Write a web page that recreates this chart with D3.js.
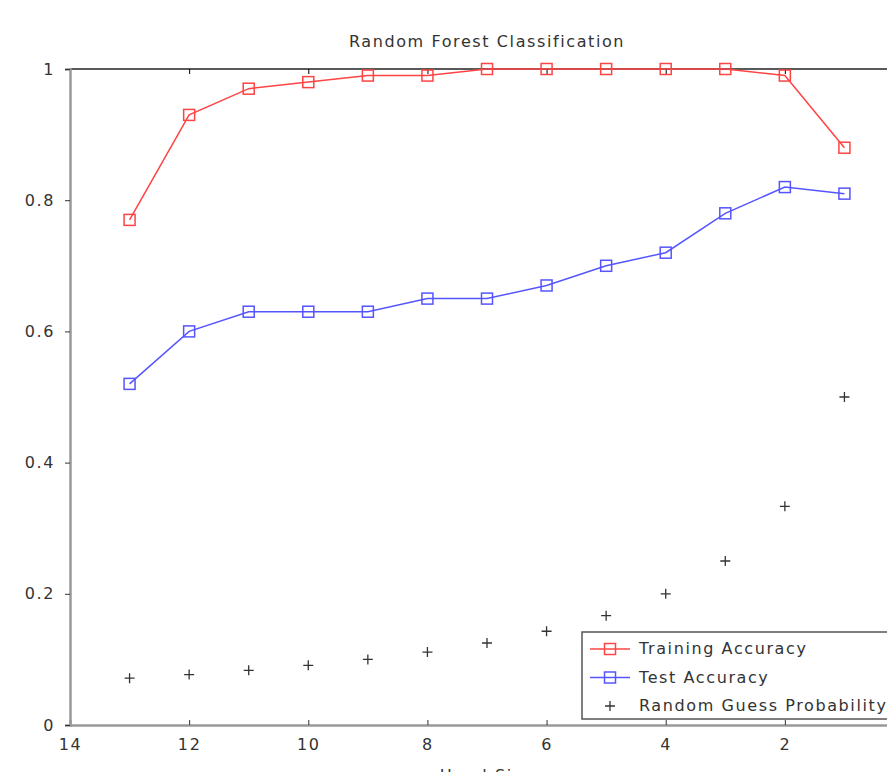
<!DOCTYPE html>
<html>
<head>
<meta charset="utf-8">
<script src="https://cdn.jsdelivr.net/npm/d3@7"></script>
<style>
  body { margin: 0; background: #fff; }
  text { font-family: "DejaVu Sans", sans-serif; fill: #333; letter-spacing: 1.6px; }
</style>
</head>
<body>
<div id="chart"></div>
<script>
// data
var handSize = [13, 12, 11, 10, 9, 8, 7, 6, 5, 4, 3, 2, 1];
var trainAcc = [0.77, 0.93, 0.97, 0.98, 0.99, 0.99, 1.0, 1.0, 1.0, 1.0, 1.0, 0.99, 0.88];
var testAcc  = [0.52, 0.60, 0.63, 0.63, 0.63, 0.65, 0.65, 0.67, 0.70, 0.72, 0.78, 0.82, 0.81];
var randomGuess = [0.0714, 0.0769, 0.0833, 0.0909, 0.1, 0.1111, 0.125, 0.1429, 0.1667, 0.2, 0.25, 0.3333, 0.5];
var xTicks = [14, 12, 10, 8, 6, 4, 2];
var yTicks = [0, 0.2, 0.4, 0.6, 0.8, 1];
var legendLabels = ["Training Accuracy", "Test Accuracy", "Random Guess Probability"];

var width = 887, height = 772;
var mLeft = 70, mTop = 69, mBottom = 725, mRight = 904;

var svg = d3.select("#chart").append("svg")
  .attr("width", width)
  .attr("height", height);

var x = d3.scaleLinear().domain([14, 0]).range([mLeft, mRight]);
var y = d3.scaleLinear().domain([0, 1]).range([mBottom, mTop]);

// title
svg.append("text")
  .attr("x", (mLeft + mRight) / 2)
  .attr("y", 47)
  .attr("text-anchor", "middle")
  .style("font-size", "16px")
  .text("Random Forest Classification");

// top border
svg.append("line")
  .attr("x1", mLeft).attr("x2", mRight)
  .attr("y1", mTop).attr("y2", mTop)
  .attr("stroke", "#222").attr("stroke-width", 1.5);

// x axis
var xAxis = svg.append("g")
  .attr("transform", "translate(0," + mBottom + ")")
  .call(d3.axisBottom(x).tickValues(xTicks).tickSize(-5).tickPadding(14).tickFormat(d3.format("d")));
xAxis.select(".domain").attr("stroke", "#999").attr("stroke-width", 2.5);
xAxis.selectAll(".tick line").attr("stroke", "#333");
xAxis.selectAll(".tick text").style("font-size", "16px").attr("fill", "#333");

// top ticks
svg.append("g")
  .attr("transform", "translate(0," + mTop + ")")
  .call(d3.axisTop(x).tickValues(xTicks).tickSize(-5).tickFormat(""))
  .select(".domain").remove();

// y axis
var yAxis = svg.append("g")
  .attr("transform", "translate(" + mLeft + ",0)")
  .call(d3.axisLeft(y).tickValues(yTicks).tickSize(5).tickPadding(10).tickFormat(function(d) { return d === 0 || d === 1 ? d : d.toFixed(1); }));
yAxis.select(".domain").attr("stroke", "#999").attr("stroke-width", 2.5);
yAxis.selectAll(".tick line").attr("stroke", "#333");
yAxis.selectAll(".tick text").style("font-size", "16px").attr("fill", "#333");

// x label
svg.append("text")
  .attr("x", (mLeft + mRight) / 2)
  .attr("y", 781)
  .attr("text-anchor", "middle")
  .style("font-size", "16px")
  .text("Hand Size");

var line = d3.line()
  .x(function(d, i) { return x(handSize[i]); })
  .y(function(d) { return y(d); });

function drawSeries(values, color) {
  svg.append("path")
    .datum(values)
    .attr("d", line)
    .attr("fill", "none")
    .attr("stroke", color)
    .attr("stroke-width", 1.5);
  svg.selectAll(null)
    .data(values)
    .enter().append("rect")
    .attr("x", function(d, i) { return x(handSize[i]) - 5.5; })
    .attr("y", function(d) { return y(d) - 5.5; })
    .attr("width", 11)
    .attr("height", 11)
    .attr("fill", "none")
    .attr("stroke", color)
    .attr("stroke-width", 1.5);
}

// random guess plus markers
function plus(g, cx, cy) {
  g.append("path")
    .attr("d", "M" + (cx - 5) + "," + cy + "H" + (cx + 5) + "M" + cx + "," + (cy - 5) + "V" + (cy + 5))
    .attr("stroke", "#333")
    .attr("stroke-width", 1.3);
}
randomGuess.forEach(function(d, i) { plus(svg, x(handSize[i]), y(d)); });

drawSeries(testAcc, "#5555ff");
drawSeries(trainAcc, "#ff4444");

// legend
var lg = svg.append("g").attr("transform", "translate(582,632)");
lg.append("rect")
  .attr("width", 320).attr("height", 87)
  .attr("fill", "#fff").attr("stroke", "#555").attr("stroke-width", 1.5);
var colors = ["#ff4444", "#5555ff", "#333"];
legendLabels.forEach(function(label, i) {
  var ly = 17 + i * 28.5;
  if (i < 2) {
    lg.append("line").attr("x1", 8).attr("x2", 48).attr("y1", ly).attr("y2", ly)
      .attr("stroke", colors[i]).attr("stroke-width", 1.5);
    lg.append("rect").attr("x", 22.5).attr("y", ly - 5.5).attr("width", 11).attr("height", 11)
      .attr("fill", "none").attr("stroke", colors[i]).attr("stroke-width", 1.5);
  } else {
    plus(lg, 28, ly);
  }
  lg.append("text")
    .attr("x", 57).attr("y", ly + 5)
    .style("font-size", "16px")
    .text(label);
});
</script>
</body>
</html>
